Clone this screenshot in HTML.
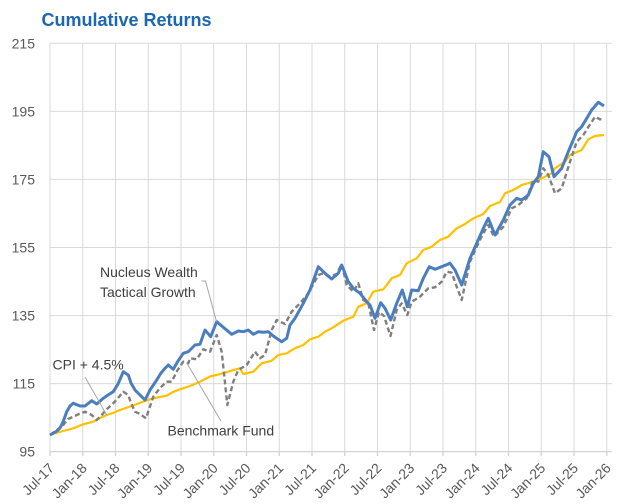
<!DOCTYPE html>
<html><head><meta charset="utf-8"><style>
html,body{margin:0;padding:0;background:#fff;}
svg{display:block;}
text{font-family:"Liberation Sans",Arial,sans-serif;}
</style></head><body>
<svg width="618" height="504" viewBox="0 0 618 504" xmlns="http://www.w3.org/2000/svg">
<rect width="618" height="504" fill="#fff"/>
<text x="41.5" y="26" font-size="18" font-weight="bold" fill="#1B67B2">Cumulative Returns</text>
<g stroke="#d9d9d9" stroke-width="1" fill="none">
<line x1="50" y1="43.3" x2="612" y2="43.3"/>
<line x1="50" y1="111.4" x2="612" y2="111.4"/>
<line x1="50" y1="179.4" x2="612" y2="179.4"/>
<line x1="50" y1="247.5" x2="612" y2="247.5"/>
<line x1="50" y1="315.6" x2="612" y2="315.6"/>
<line x1="50" y1="383.6" x2="612" y2="383.6"/>
<line x1="50" y1="43.3" x2="50" y2="451.7"/>
<line x1="82.75" y1="43.3" x2="82.75" y2="451.7"/>
<line x1="115.5" y1="43.3" x2="115.5" y2="451.7"/>
<line x1="148.25" y1="43.3" x2="148.25" y2="451.7"/>
<line x1="181" y1="43.3" x2="181" y2="451.7"/>
<line x1="213.75" y1="43.3" x2="213.75" y2="451.7"/>
<line x1="246.5" y1="43.3" x2="246.5" y2="451.7"/>
<line x1="279.25" y1="43.3" x2="279.25" y2="451.7"/>
<line x1="312" y1="43.3" x2="312" y2="451.7"/>
<line x1="344.75" y1="43.3" x2="344.75" y2="451.7"/>
<line x1="377.5" y1="43.3" x2="377.5" y2="451.7"/>
<line x1="410.25" y1="43.3" x2="410.25" y2="451.7"/>
<line x1="443" y1="43.3" x2="443" y2="451.7"/>
<line x1="475.75" y1="43.3" x2="475.75" y2="451.7"/>
<line x1="508.5" y1="43.3" x2="508.5" y2="451.7"/>
<line x1="541.25" y1="43.3" x2="541.25" y2="451.7"/>
<line x1="574" y1="43.3" x2="574" y2="451.7"/>
<line x1="606.75" y1="43.3" x2="606.75" y2="451.7"/>
</g>
<g stroke="#d0d0d0" stroke-width="1.2">
<line x1="50" y1="451.7" x2="612" y2="451.7"/>
<line x1="50" y1="451.7" x2="50" y2="456"/>
<line x1="82.75" y1="451.7" x2="82.75" y2="456"/>
<line x1="115.5" y1="451.7" x2="115.5" y2="456"/>
<line x1="148.25" y1="451.7" x2="148.25" y2="456"/>
<line x1="181" y1="451.7" x2="181" y2="456"/>
<line x1="213.75" y1="451.7" x2="213.75" y2="456"/>
<line x1="246.5" y1="451.7" x2="246.5" y2="456"/>
<line x1="279.25" y1="451.7" x2="279.25" y2="456"/>
<line x1="312" y1="451.7" x2="312" y2="456"/>
<line x1="344.75" y1="451.7" x2="344.75" y2="456"/>
<line x1="377.5" y1="451.7" x2="377.5" y2="456"/>
<line x1="410.25" y1="451.7" x2="410.25" y2="456"/>
<line x1="443" y1="451.7" x2="443" y2="456"/>
<line x1="475.75" y1="451.7" x2="475.75" y2="456"/>
<line x1="508.5" y1="451.7" x2="508.5" y2="456"/>
<line x1="541.25" y1="451.7" x2="541.25" y2="456"/>
<line x1="574" y1="451.7" x2="574" y2="456"/>
<line x1="606.75" y1="451.7" x2="606.75" y2="456"/>
</g>
<g font-size="14" fill="#595959" text-anchor="end">
<text x="35" y="48.3">215</text>
<text x="35" y="116.4">195</text>
<text x="35" y="184.4">175</text>
<text x="35" y="252.5">155</text>
<text x="35" y="320.6">135</text>
<text x="35" y="388.6">115</text>
<text x="35" y="456.7">95</text>
</g>
<g font-size="14" fill="#595959" text-anchor="end">
<text transform="translate(55,469) rotate(-45)">Jul-17</text>
<text transform="translate(87.75,469) rotate(-45)">Jan-18</text>
<text transform="translate(120.5,469) rotate(-45)">Jul-18</text>
<text transform="translate(153.25,469) rotate(-45)">Jan-19</text>
<text transform="translate(186,469) rotate(-45)">Jul-19</text>
<text transform="translate(218.75,469) rotate(-45)">Jan-20</text>
<text transform="translate(251.5,469) rotate(-45)">Jul-20</text>
<text transform="translate(284.25,469) rotate(-45)">Jan-21</text>
<text transform="translate(317,469) rotate(-45)">Jul-21</text>
<text transform="translate(349.75,469) rotate(-45)">Jan-22</text>
<text transform="translate(382.5,469) rotate(-45)">Jul-22</text>
<text transform="translate(415.25,469) rotate(-45)">Jan-23</text>
<text transform="translate(448,469) rotate(-45)">Jul-23</text>
<text transform="translate(480.75,469) rotate(-45)">Jan-24</text>
<text transform="translate(513.5,469) rotate(-45)">Jul-24</text>
<text transform="translate(546.25,469) rotate(-45)">Jan-25</text>
<text transform="translate(579,469) rotate(-45)">Jul-25</text>
<text transform="translate(611.75,469) rotate(-45)">Jan-26</text>
</g>
<!-- CPI + 4.5% -->
<polyline fill="none" stroke="#FFC000" stroke-width="2.2" stroke-linejoin="round" points="50,435 56,433 63.3,431 73.3,428.3 83.3,424.3 93.3,421.7 100,418 106.7,415 113,413 120,410 131.7,406 145,401 153.3,398.3 166.7,395.7 173,392 180,389.3 190,386 200,381.7 210,376.5 223.3,373.3 233.3,370 240,368.3 243.3,374 253.3,371.7 261.7,363.3 271.7,360.7 278.3,355 286.7,353.3 295,348.3 303.3,345 310,339.3 318.3,336.7 325,331.7 331.7,328.3 343.3,320.7 353.3,316.7 358.3,306.7 366.7,303.3 373.3,291.7 383.3,289.3 386.7,285 391.7,278.3 400,275 406.7,263.3 416.7,258.3 423.3,250 431.7,246.7 440,240 448.3,236.7 456.7,228.3 465,224 473.3,218.3 483.3,214 490,206 500,202 505,193.3 513.3,190 521.7,185 533.3,181.7 545,176.7 551.7,173.3 555,168.3 565,161.7 570,155 581.7,150 588.3,139.3 595,136 604,135"/>
<!-- Benchmark Fund -->
<polyline fill="none" stroke="#7f7f7f" stroke-width="2.4" stroke-dasharray="5,3" stroke-linejoin="round" points="50,435 57,430 63.3,425 68,419 73.3,416.7 79,414 85,411.7 91.7,415 96.7,420 101.7,415 107,409 113.3,403.3 118,398 123.3,391.7 128.3,395 131,403 135,411.7 140,414 146,418.3 153.3,396.7 160,388 166.7,381.7 171.7,381.7 177,371 183.3,361.7 188.3,363.3 190,358.3 196.7,359.3 203.3,349.3 210,351.7 216.7,335 221.7,351.7 227.3,405 233.3,381.7 238.3,370 246.7,365 255,351.7 260,358.3 265,355 271.7,330 276.7,320 285,324 291.7,311.7 300,303.3 308.3,293.3 318.3,275 323.3,273.3 330,276.7 336.7,274 341.7,264 346.7,285 353.3,291.7 358.3,283.3 363.3,300 368.3,303.3 374,330 379,312 384,316 390.5,336 396.7,310 401.7,303.3 407.3,315 411.7,301.7 420,296.7 428.3,288.3 435,287.3 441.7,281.7 446.7,271.7 451.7,272.7 456.7,286.7 461.7,300 470,261.7 476.7,246.7 483.3,233.3 488.3,225 494,236.7 503.3,226.7 511.7,208.3 518.3,205 526.7,198.3 533.3,180 538.3,181.7 543.3,168.3 548.3,175 555,193.3 561.7,188.3 570,161.7 576.7,141.7 583.3,135 595,116.7 600,119.3 604,119.3"/>
<!-- Nucleus Wealth -->
<polyline fill="none" stroke="#4A7EBF" stroke-width="3" stroke-linejoin="round" points="50,435 57,431 60,428 63,422 66.7,411.7 70,406 73.3,403.3 80,406 85,406 91.7,400.7 96.7,404 103.3,398.3 108,395 113.3,391.7 118,384 123.3,371.7 128.3,375 131,383 135,390 140,395 145,400 150,390 156.7,380 161,373 165,368.3 168.3,365 173.3,369.3 178,361 183.3,353.3 188.3,351.7 190,350 195,345 200,344.3 205,330 210.7,336.7 216.7,321.7 223.3,327.3 231.7,334.3 238.3,331 243.3,331.7 248.3,330 253.3,334.3 258.3,331.7 263.3,332.3 268.3,331.7 273.3,336 281.7,341.7 286.7,338.3 290,325 295,318.3 303.3,303.3 310,290 318.3,266.7 325,273.3 331.7,279 338.3,273.3 341.7,265 348.3,281.7 353.3,288.3 360,293.3 366.7,301.7 370,305 375,318.3 380.7,302.7 385,308.3 390.7,320 396.7,303.3 402.3,290 407.3,306.7 411.7,290 418.3,290.7 423.3,278.3 429.3,266.7 435,269.3 441.7,266.7 450,263.3 455,270 461.7,285 470,258.3 476.7,243.3 483.3,228.3 488.3,218.3 495,235 503.3,220 510,205 516.7,198.3 521.7,200 528.3,195 533.3,183.3 538.3,176.7 543.3,151.7 549,156.7 554,176.7 561.7,168.3 568.3,151.7 576.7,131.7 581.7,126.7 591.7,110 598.3,102.3 604,106"/>
<!-- annotations -->
<g stroke="#a6a6a6" stroke-width="1" fill="none">
<polyline points="201.5,281 205.5,281 216.5,321.5"/>
<line x1="85" y1="377" x2="106.7" y2="415"/>
<line x1="186.5" y1="362.5" x2="221" y2="421"/>
</g>
<g font-size="14" fill="#404040">
<text x="100" y="277">Nucleus Wealth</text>
<text x="100" y="297">Tactical Growth</text>
<text x="52.5" y="369.5">CPI + 4.5%</text>
<text x="167.5" y="435.7">Benchmark Fund</text>
</g>
</svg>
</body></html>
